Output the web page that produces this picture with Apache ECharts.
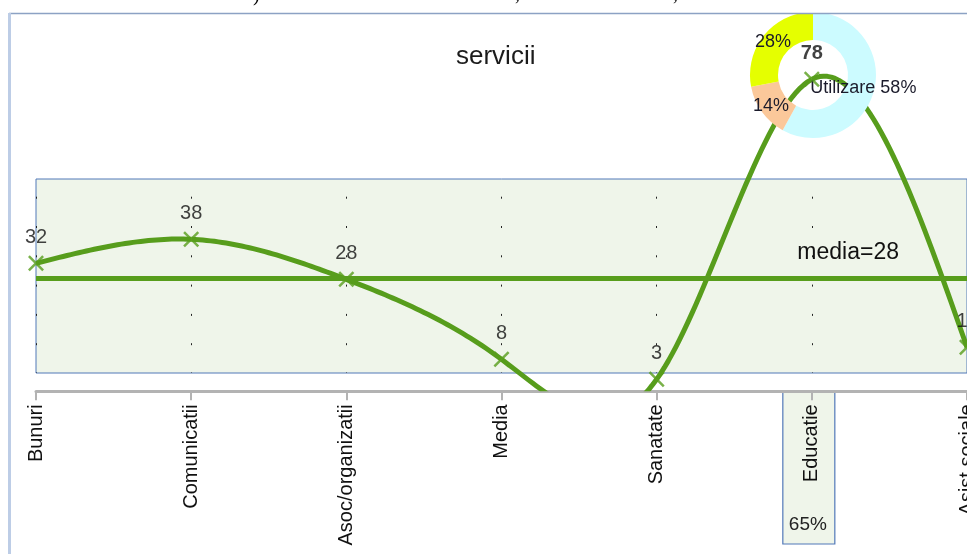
<!DOCTYPE html>
<html lang="ro">
<head>
<meta charset="UTF-8">
<title>servicii</title>
<script src="https://cdn.jsdelivr.net/npm/echarts@6/dist/echarts.min.js"></script>
<style>
  html, body { margin: 0; padding: 0; background: #fff; }
  #chart { width: 967px; height: 554px; }
</style>
</head>
<body>
<div id="chart"></div>
<script>
// categorii si valori
const categories = ['Bunuri', 'Comunicatii', 'Asoc/organizatii', 'Media', 'Sanatate', 'Educatie', 'Asist sociale'];
const values = [32, 38, 28, 8, 3, 78, 11];

// inelul de sus
const pieNames = ['Utilizare', '', ''];
const pieValues = [58, 14, 28];

// eticheta evidentiata sub axa
const highlightCategory = 'Educatie';
const highlightText = '65%';

const FONT = '"Liberation Sans", Arial, sans-serif';
const GREEN = '#579d1c';
const PIE_COLORS = ['#ccfbff', '#fbc89a', '#e5ff00'];
const X_SYMBOL = 'path://M0,1.1L1.1,0L5,3.9L8.9,0L10,1.1L6.1,5L10,8.9L8.9,10L5,6.1L1.1,10L0,8.9L3.9,5Z';

// spline cubic natural (ca in LibreOffice), derivatele a doua
function splineM(ys) {
    const n = ys.length;
    const m = new Array(n).fill(0);
    const c = new Array(n).fill(0);
    const d = new Array(n).fill(0);
    for (let i = 1; i < n - 1; i++) {
        const rhs = 6 * (ys[i + 1] - 2 * ys[i] + ys[i - 1]);
        const den = 4 - c[i - 1];
        c[i] = 1 / den;
        d[i] = (rhs - d[i - 1]) / den;
    }
    for (let i = n - 2; i >= 1; i--) {
        m[i] = d[i] - c[i] * m[i + 1];
    }
    return m;
}
const M = splineM(values);

function renderCurve(params, api) {
    const i = params.dataIndex;
    if (i >= values.length - 1) return;
    const x0 = api.coord([i, 0])[0];
    const x1 = api.coord([i + 1, 0])[0];
    const pts = [];
    const steps = 40;
    for (let k = 0; k <= steps; k++) {
        const t = k / steps, u = 1 - t;
        const v = values[i] * u + values[i + 1] * t +
            (M[i] * (u * u * u - u) + M[i + 1] * (t * t * t - t)) / 6;
        pts.push([x0 + (x1 - x0) * t, api.coord([i, v])[1]]);
    }
    return {
        type: 'polyline',
        shape: { points: pts },
        style: { stroke: GREEN, lineWidth: 5, fill: null, lineJoin: 'round' }
    };
}

const maxIdx = values.indexOf(Math.max(...values));

const chart = echarts.init(document.getElementById('chart'));
chart.setOption({
    animation: false,
    textStyle: { fontFamily: FONT },
    title: {
        text: 'servicii',
        left: 451,
        top: 39,
        textStyle: { fontSize: 26, fontWeight: 'normal', color: '#1b1b1b', fontFamily: FONT }
    },
    grid: [
        // caseta verde
        { left: 36, right: 0, top: 179, bottom: 181, show: true, outerBoundsMode: 'none',
          backgroundColor: '#eff5ea', borderColor: '#5178b8', borderWidth: 1 },
        // zona liniei
        { left: 36, right: 0, top: 31.3, bottom: 162.7, outerBoundsMode: 'none' }
    ],
    xAxis: [
        {
            gridIndex: 0, type: 'category', data: categories, boundaryGap: false,
            axisLine: { show: false }, axisTick: { show: false }, axisLabel: { show: false },
            splitLine: { show: true, lineStyle: { color: '#222', width: 1, type: [2, 27.3], dashOffset: 11.6 } }
        },
        {
            gridIndex: 1, type: 'category', data: categories, boundaryGap: false,
            axisLine: { lineStyle: { color: '#b3b3b3', width: 3 } },
            axisTick: { show: true, length: 9, lineStyle: { color: '#b3b3b3', width: 2 } },
            axisLabel: { rotate: 90, fontSize: 20, color: '#111', margin: 13, fontFamily: FONT },
            splitLine: { show: false }
        }
    ],
    yAxis: [
        { gridIndex: 0, type: 'value', min: 0, max: 1, show: false },
        { gridIndex: 1, type: 'value', min: 0, max: 90, show: false }
    ],
    series: [
        {
            type: 'pie',
            center: [813, 75],
            radius: [35, 63],
            startAngle: 90,
            silent: true,
            label: {
                position: 'inside', fontSize: 18, color: '#1b1b2b', fontFamily: FONT,
                formatter: p => (p.name ? p.name + ' ' : '') + p.percent + '%'
            },
            labelLine: { show: false },
            data: pieValues.map((v, i) => ({ name: pieNames[i], value: v, itemStyle: { color: PIE_COLORS[i] } }))
        },
        {
            type: 'custom',
            xAxisIndex: 1, yAxisIndex: 1,
            clip: true,
            silent: true,
            renderItem: renderCurve,
            encode: { x: 0, y: 1 },
            data: values.map((v, i) => [i, v])
        },
        {
            type: 'scatter',
            xAxisIndex: 1, yAxisIndex: 1,
            symbol: X_SYMBOL,
            symbolSize: 16,
            silent: true,
            itemStyle: { color: GREEN },
            label: { show: true, position: 'top', distance: 8, fontSize: 20, color: '#111', fontFamily: FONT },
            data: values.map((v, i) => i === maxIdx ? { value: v, label: { fontWeight: 'bold' } } : v),
            markLine: {
                silent: true,
                symbol: 'none',
                lineStyle: { color: GREEN, width: 5, type: 'solid' },
                label: {
                    position: 'insideEndTop', distance: [68, 14], fontSize: 23, color: '#111', fontFamily: FONT,
                    formatter: p => 'media=' + Math.round(p.value)
                },
                data: [{ type: 'average' }]
            }
        }
    ]
});

// caseta de sub eticheta Educatie si rama
const hx = chart.convertToPixel({ xAxisIndex: 1 }, highlightCategory);
chart.setOption({
    graphic: [
        { type: 'rect', z: -1, shape: { x: hx - 29, y: 392.5, width: 52, height: 151.5 },
          style: { fill: '#eff5ea', stroke: '#5178b8', lineWidth: 1.2 } },
        { type: 'text', x: hx - 4, y: 525, style: { text: highlightText, font: '19px ' + FONT, fill: '#222',
          textAlign: 'center', textVerticalAlign: 'middle' } },
        { type: 'rect', z: 100, shape: { x: 0, y: 0, width: 967, height: 13 }, style: { fill: '#fff' } },
        { type: 'line', z: 101, shape: { x1: 9, y1: 13.5, x2: 967, y2: 13.5 }, style: { stroke: '#8ca2c4', lineWidth: 1.5 } },
        { type: 'line', z: 101, shape: { x1: 9.5, y1: 13, x2: 9.5, y2: 554 }, style: { stroke: '#bdcde6', lineWidth: 3 } },
        { type: 'text', z: 102, x: 253, y: 6, style: { text: ')', font: '20px "Liberation Serif", serif', fill: '#000', textVerticalAlign: 'bottom' } },
        { type: 'text', z: 102, x: 515, y: 5, style: { text: ',', font: '20px "Liberation Serif", serif', fill: '#000', textVerticalAlign: 'bottom' } },
        { type: 'text', z: 102, x: 673, y: 5, style: { text: ',', font: '20px "Liberation Serif", serif', fill: '#000', textVerticalAlign: 'bottom' } }
    ]
});
</script>
</body>
</html>
